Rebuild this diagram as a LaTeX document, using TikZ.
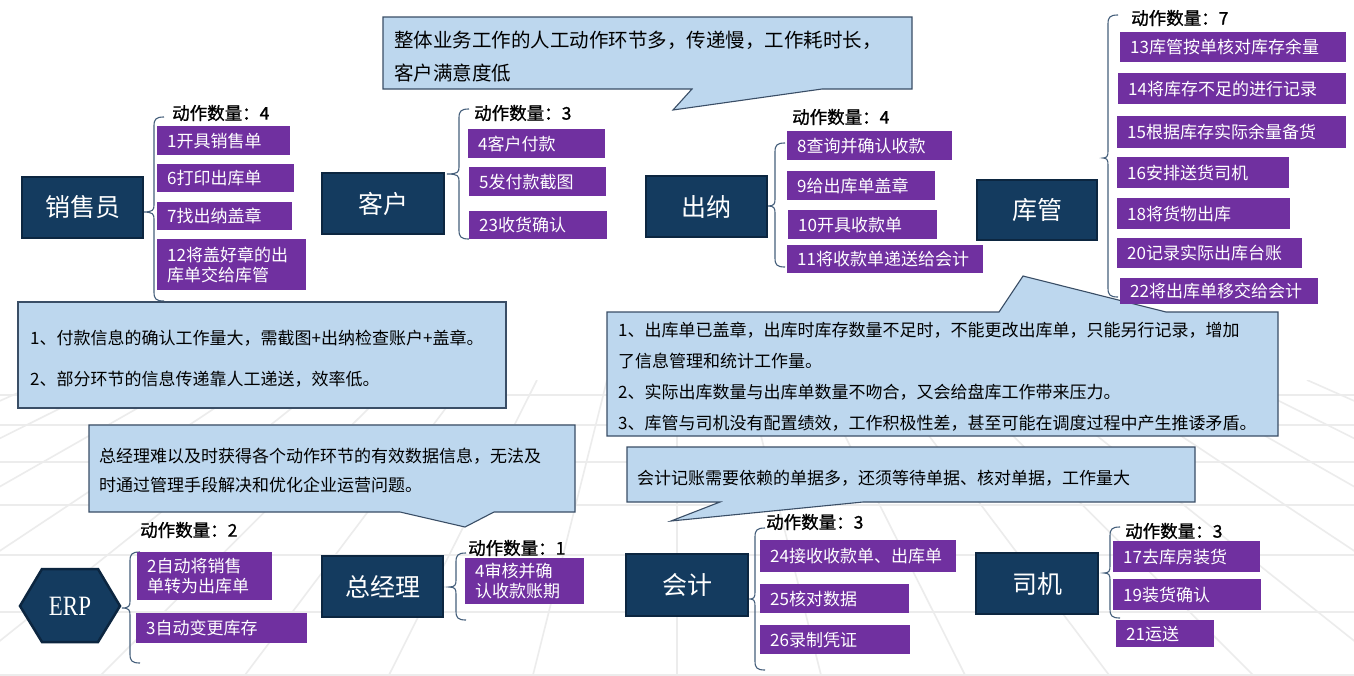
\documentclass[tikz,border=0pt]{standalone}
\usepackage{fontspec}
\setmainfont{Noto Sans CJK SC}
\newfontfamily\erpfont{Liberation Serif}
\newfontfamily\lblfont[FakeBold=1.2]{Noto Sans CJK SC}
\definecolor{purp}{HTML}{7030A0}
\definecolor{navy}{RGB}{20,59,95}
\definecolor{navyb}{RGB}{12,38,64}
\definecolor{callfill}{HTML}{BDD7EE}
\definecolor{callline}{RGB}{58,78,102}
\definecolor{bracec}{RGB}{70,96,124}
\definecolor{gridc}{RGB}{236,236,236}
\tikzset{
  role/.style={draw=navyb, line width=2.5pt, fill=navy, text=white,
    font=\fontsize{25}{30}\selectfont, inner sep=0pt},
  pbox/.style={fill=purp, text=white, font=\fontsize{17}{20}\selectfont,
    anchor=north west, align=left, inner xsep=10pt, inner ysep=0pt},
  cntlbl/.style={anchor=west, inner sep=0pt, text=black, font=\lblfont\fontsize{17.5}{20}\selectfont},
  bracel/.style={draw=bracec, line width=1.1pt},
  callout/.style={fill=callfill, draw=callline, line width=1.1pt, line join=miter},
  calltext/.style={anchor=west, inner sep=0pt, align=left, text=black},
  gridl/.style={draw=gridc, line width=1.6pt}
}
% purple box: name, x, y, width, height, text
\newcommand{\pbx}[6]{%
  \pgfmathsetmacro{\pbtw}{#4-20}%
  \node[pbox, text width=\pbtw pt, minimum height=#5pt] (#1) at (#2,#3) {#6};}
% curly brace: x, top y, tip x, tip y, bottom y
\newcommand{\brc}[5]{%
  \draw[bracel] ({#1+10},#2) .. controls ({#1+2},#2) and (#1,{#2+2}) .. (#1,{#2+9})
    -- (#1,{#4-7}) .. controls (#1,{#4-2}) and ({#1-1},#4) .. (#3,#4)
    .. controls ({#1-1},#4) and (#1,{#4+2}) .. (#1,{#4+7})
    -- (#1,{#5-9}) .. controls (#1,{#5-2}) and ({#1+2},#5) .. ({#1+10},#5);}
\begin{document}
\begin{tikzpicture}[x=1pt,y=-1pt]
\useasboundingbox (0,0) rectangle (1354,675);
\fill[white] (0,0) rectangle (1354,675);

% ---------- faint perspective floor grid ----------
\begin{scope}
\clip (0,380) rectangle (1354,675);
\foreach \yy in {395,425,462,505,555,612,675}
  \draw[gridl] (0,\yy) -- (1354,\yy);
\foreach \k in {-12,...,12}
  \draw[gridl] ({677+\k*70},380) -- ({677+\k*144},675);
\end{scope}

% ---------- braces ----------
\brc{154}{117}{143}{212}{301}
\brc{459}{109}{447}{174}{239}
\brc{775}{143}{768}{206}{267}
\brc{1108}{15}{1103}{158}{297}
\brc{130}{552}{122}{608}{663}
\brc{456}{553}{449}{587}{620}
\brc{755}{528}{750}{599}{670}
\brc{1110}{527}{1104}{573}{618}

% ---------- callouts ----------
\draw[callout] (383,17) -- (912,17) -- (912,89) -- (822,89) -- (673,110) -- (692,89) -- (383,89) -- cycle;
\node[calltext, font=\fontsize{19.5}{33}\selectfont] (cA) at (394,56.5)
  {整体业务工作的人工动作环节多，传递慢，工作耗时长，\\客户满意度低};

\draw[callout] (18,302) rectangle (506,408);
\node[calltext, font=\fontsize{17}{41}\selectfont] (cB) at (30,358.5)
  {1、付款信息的确认工作量大，需截图+出纳检查账户+盖章。\\2、部分环节的信息传递靠人工递送，效率低。};

\draw[callout] (607,312) -- (999,312) -- (1023,276) -- (1166,312) -- (1278,312) -- (1278,436) -- (607,436) -- cycle;
\node[calltext, font=\fontsize{17}{31}\selectfont] (cC) at (618,376.5)
  {1、出库单已盖章，出库时库存数量不足时，不能更改出库单，只能另行记录，增加\\了信息管理和统计工作量。\\2、实际出库数量与出库单数量不吻合，又会给盘库工作带来压力。\\3、库管与司机没有配置绩效，工作积极性差，甚至可能在调度过程中产生推诿矛盾。};

\draw[callout] (89,425) -- (575,425) -- (575,512) -- (494,512) -- (465,527) -- (400,512) -- (89,512) -- cycle;
\node[calltext, font=\fontsize{17}{29}\selectfont] (cD) at (99,470.5)
  {总经理难以及时获得各个动作环节的有效数据信息，无法及\\时通过管理手段解决和优化企业运营问题。};

\draw[callout] (627,447) -- (1195,447) -- (1195,502) -- (863,502) -- (671,521) -- (720,502) -- (627,502) -- cycle;
\node[calltext, font=\fontsize{17}{20}\selectfont] (cE) at (637,478)
  {会计记账需要依赖的单据多，还须等待单据、核对单据，工作量大};

% ---------- role boxes ----------
\node[role, minimum width=121pt, minimum height=61pt] (xs) at (82.5,207.5) {销售员};
\node[role, minimum width=122pt, minimum height=61pt] (kh) at (383,203.5) {客户};
\node[role, minimum width=121pt, minimum height=61pt] (cn) at (706.5,206.5) {出纳};
\node[role, minimum width=120pt, minimum height=60pt] (kg) at (1037,210) {库管};
\node[role, minimum width=121pt, minimum height=61pt] (zjl) at (382.5,586.5) {总经理};
\node[role, minimum width=122pt, minimum height=62pt] (kj) at (687,585) {会计};
\node[role, minimum width=122pt, minimum height=61pt] (sj) at (1037,583.5) {司机};
\draw[draw=navyb, line width=2.5pt, fill=navy, line join=miter]
  (20,606) -- (42,569) -- (98,569) -- (120,606) -- (98,642) -- (42,642) -- cycle;
\node[text=white, font=\erpfont\fontsize{28}{32}\selectfont, inner sep=0pt,
  xscale=0.82, transform shape] (erp) at (70,606) {ERP};

% ---------- count labels ----------
\node[cntlbl] (lxs) at (172,113) {动作数量：4};
\node[cntlbl] (lkh) at (474,113) {动作数量：3};
\node[cntlbl] (lcn) at (792,117) {动作数量：4};
\node[cntlbl] (lkg) at (1131,18) {动作数量：7};
\node[cntlbl] (lerp) at (140,530) {动作数量：2};
\node[cntlbl] (lzjl) at (468,548) {动作数量：1};
\node[cntlbl] (lkj) at (766,522) {动作数量：3};
\node[cntlbl] (lsj) at (1125,531) {动作数量：3};

% ---------- purple action boxes ----------
\pbx{s1}{157}{126}{133}{29}{1开具销售单}
\pbx{s6}{157}{164}{137}{28}{6打印出库单}
\pbx{s7}{157}{202}{135}{28}{7找出纳盖章}
\pbx{s12}{157}{239}{149}{51}{12将盖好章的出\\库单交给库管}

\pbx{c4}{468}{129}{137}{29}{4客户付款}
\pbx{c5}{469}{167}{137}{29}{5发付款截图}
\pbx{c23}{469}{211}{138}{28}{23收货确认}

\pbx{n8}{787}{131}{165}{29}{8查询并确认收款}
\pbx{n9}{787}{171}{148}{29}{9给出库单盖章}
\pbx{n10}{788}{210}{149}{29}{10开具收款单}
\pbx{n11}{787}{245}{196}{28}{11将收款单递送给会计}

\pbx{k13}{1120}{32}{226}{30}{13库管按单核对库存余量}
\pbx{k14}{1118}{73}{228}{31}{14将库存不足的进行记录}
\pbx{k15}{1117}{116}{229}{32}{15根据库存实际余量备货}
\pbx{k16}{1117}{157}{172}{31}{16安排送货司机}
\pbx{k18}{1117}{198}{173}{31}{18将货物出库}
\pbx{k20}{1117}{238}{185}{30}{20记录实际出库台账}
\pbx{k22}{1120}{278}{198}{26}{22将出库单移交给会计}

\pbx{e2}{137}{552}{135}{48}{2自动将销售\\单转为出库单}
\pbx{e3}{136}{613}{171}{30}{3自动变更库存}

\pbx{g4}{465}{558}{119}{46}{4审核并确\\认收款账期}

\pbx{a24}{760}{540}{196}{32}{24接收收款单、出库单}
\pbx{a25}{760}{584}{149}{29}{25核对数据}
\pbx{a26}{760}{625}{150}{29}{26录制凭证}

\pbx{d17}{1113}{541}{147}{31}{17去库房装货}
\pbx{d19}{1113}{579}{148}{31}{19装货确认}
\pbx{d21}{1116}{620}{98}{27}{21运送}
\end{tikzpicture}
\end{document}
